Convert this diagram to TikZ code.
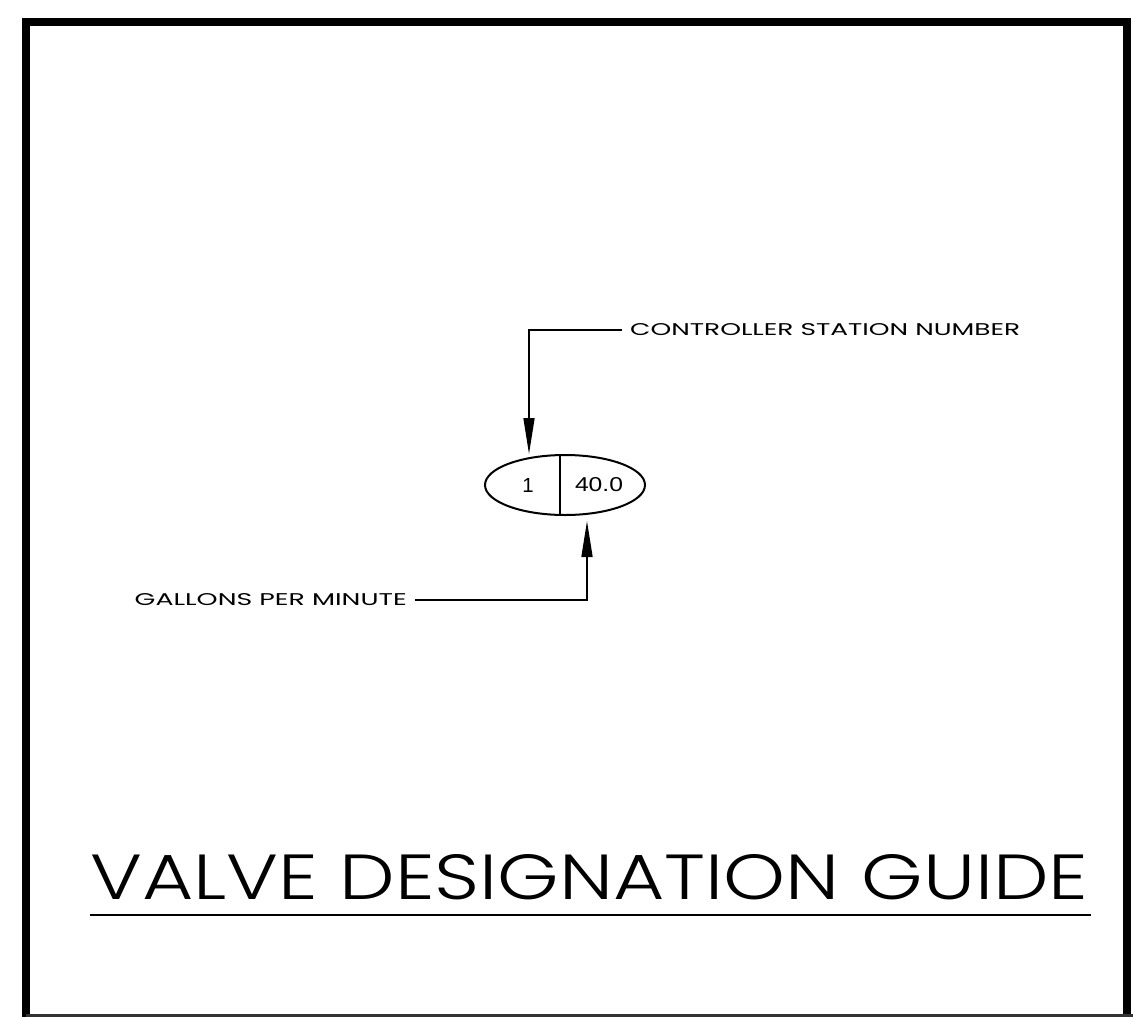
\documentclass[tikz,border=0pt]{standalone}
\usepackage{fontspec}
\setmainfont{Liberation Sans}
\newfontfamily\handfont{Poppins}
\newfontfamily\titlefont{Poppins Light}
\usetikzlibrary{arrows.meta,shapes.geometric}
\begin{document}
\begin{tikzpicture}[x=1pt,y=-1pt,
  conn/.style={line width=1.6pt, draw=black},
  tipped/.style={conn, -{Triangle[length=36pt,width=11pt]}},
  lbl/.style={inner sep=0pt, font=\handfont},
  frame/.style={line width=8pt, draw=black},
]
\useasboundingbox (0,0) rectangle (1133,1017);
\fill[white] (0,0) rectangle (1133,1017);
% frame
\draw[frame] (26,1017) -- (26,22) -- (1127,22) -- (1127,1017);
\draw[line width=3pt, draw=black!80] (26,1015) -- (1133,1015);
% valve symbol
\node[draw, ellipse, line width=2pt, minimum width=160pt, minimum height=60pt, inner sep=0pt] (valve) at (565,485) {};
\coordinate (divtop) at (560,455.1);
\coordinate (divbot) at (560,514.9);
\draw[line width=2pt] (divtop) -- (divbot);
\node[inner sep=0pt] (num) at (528,485) {\resizebox{!}{14pt}{1}};
\node[inner sep=0pt] (gpm) at (599,485) {\resizebox{48pt}{14pt}{40.0}};
% controller station number
\node[lbl, anchor=west] (ctl) at (630,330) {\resizebox{390pt}{12pt}{CONTROLLER STATION NUMBER}};
\coordinate (ctlc) at (529,330);
\draw[tipped] ([xshift=-8pt]ctl.west) -- (ctlc) -- (valve.north -| ctlc);
% gallons per minute
\node[lbl, anchor=east] (gal) at (407,600) {\resizebox{272pt}{12pt}{GALLONS PER MINUTE}};
\coordinate (galc) at (587,600);
\coordinate (uptip) at (587,521);
\draw[tipped] ([xshift=8pt]gal.east) -- (galc) -- (uptip);
% title
\node[lbl, font=\titlefont, anchor=south west] (title) at (90,900) {\resizebox{998pt}{45pt}{VALVE DESIGNATION GUIDE}};
\coordinate (ul1) at (90,915);
\coordinate (ul2) at (1091,915);
\draw[line width=2.5pt] (ul1) -- (ul2);
\end{tikzpicture}
\end{document}
